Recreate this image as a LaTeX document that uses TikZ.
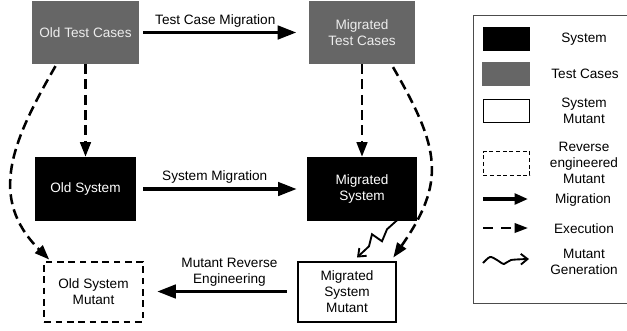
\documentclass[tikz,border=0pt]{standalone}
\usepackage{fontspec}
\setmainfont{Liberation Sans}
\usetikzlibrary{arrows.meta,calc}

\begin{document}
\begin{tikzpicture}[x=0.75pt,y=-0.75pt,font=\fontsize{10.2}{12}\selectfont]
\tikzstyle{systeme} = [fill=black,text=white,inner sep=0pt,align=center,minimum height=48pt] %boites noires
\tikzstyle{cas} = [fill=black!60,text=white!93!black,inner sep=0pt,align=center,minimum width=80pt,minimum height=47pt] %boites grises
\tikzstyle{mutant} = [draw,line width=1.5pt,fill=white,inner sep=0pt,align=center,minimum width=74pt,minimum height=45pt]
\tikzstyle{mutantinv} = [mutant,dash pattern=on 5pt off 3.5pt]
\tikzstyle{migration} = [line width=2.6pt,-{Triangle[length=14pt,width=10pt]}]
\tikzstyle{execution} = [line width=1.9pt,dash pattern=on 7.5pt off 4pt,-{Triangle[length=11pt,width=8pt]}]
\tikzstyle{generation} = [line width=1.4pt,-{Straight Barb[length=5pt,width=8pt]}]

\useasboundingbox (0,0) rectangle (627,330);

%boites
\node[cas] (OTC) at (85.5,32.5) {Old Test Cases};
\node[cas] (MTC) at (362,32.5) {Migrated\\Test Cases};
\node[systeme,minimum width=76pt] (OS) at (85.5,189) {Old System};
\node[systeme,minimum width=82.5pt] (MS) at (362,189) {Migrated\\System};
\node[mutant] (MSM) at (347,291.5) {Migrated\\System\\Mutant};
\node[mutantinv] (OSM) at (93.5,291.5) {Old System\\Mutant};

%migrations
\draw[migration,shorten <=3pt,shorten >=9pt] (OTC) -- node[pos=0.45,above=-1pt]{Test Case Migration} (MTC);
\draw[migration,shorten <=5pt,shorten >=7.5pt] (OS) -- node[pos=0.46,above=0pt]{System Migration} (MS);
\draw[migration,shorten <=7.5pt,shorten >=10pt] (MSM) -- node[pos=0.44,above=-1pt,align=center]{Mutant Reverse\\Engineering} (OSM);

%executions
\draw[execution] (OTC) -- (OS);
\draw[execution] (MTC) -- (MS);
\draw[execution] ($(OTC.south)+(-30,2)$) to[out=240,in=135,looseness=1.15] ($(OSM.north west)+(6,-1)$);
\draw[execution] ($(MTC.south)+(31,3)$) to[out=300,in=55,looseness=1.25] ($(MSM.north east)+(-4,-3)$);

%generation du mutant
\draw[generation] ($(MS.south)+(35,-1)$) -- ++(-10,9) -- ++(-5,12) -- ++(-10,-7) -- ++(-3,12) -- ($(MSM.north)+(10,-3)$);

%legende
\draw[black!70,line width=0.7pt] (473.5,15) rectangle (700,303);
\node[fill=black,minimum width=35.25pt,minimum height=18pt] (LS) at (506.5,39) {};
\node[fill=black!60,minimum width=36pt,minimum height=18pt] (LC) at (506,74) {};
\node[draw,line width=0.6pt,minimum width=35pt,minimum height=17.5pt] (LM) at (506.5,111) {};
\node[draw,line width=0.6pt,dash pattern=on 3pt off 2pt,minimum width=35pt,minimum height=17.5pt] (LR) at (506.5,163.5) {};
\node (LSt) at (584,39) {System};
\node (LCt) at (585,74) {Test Cases};
\node[align=center] (LMt) at (584,111) {System\\Mutant};
\node[align=center] (LRt) at (584,163) {Reverse\\engineered\\Mutant};
\node (LMigt) at (583,200) {Migration};
\node (LExt) at (584,229) {Execution};
\node[align=center] (LGt) at (584,262) {Mutant\\Generation};

\coordinate (LMig1) at (483,199);
\coordinate (LMig2) at (528,199);
\coordinate (LEx1) at (483,228);
\coordinate (LEx2) at (528,228);
\draw[line width=2.4pt,-{Triangle[length=10pt,width=8pt]}] (LMig1) -- (LMig2);
\draw[line width=1.8pt,dash pattern=on 7.5pt off 6pt,-{Triangle[length=10pt,width=7pt]}] (LEx1) -- (LEx2);
\draw[generation] plot[smooth] coordinates {(483,263) (490,257) (497,260) (504,264) (511,260) (529,259)};
\end{tikzpicture}
\end{document}
